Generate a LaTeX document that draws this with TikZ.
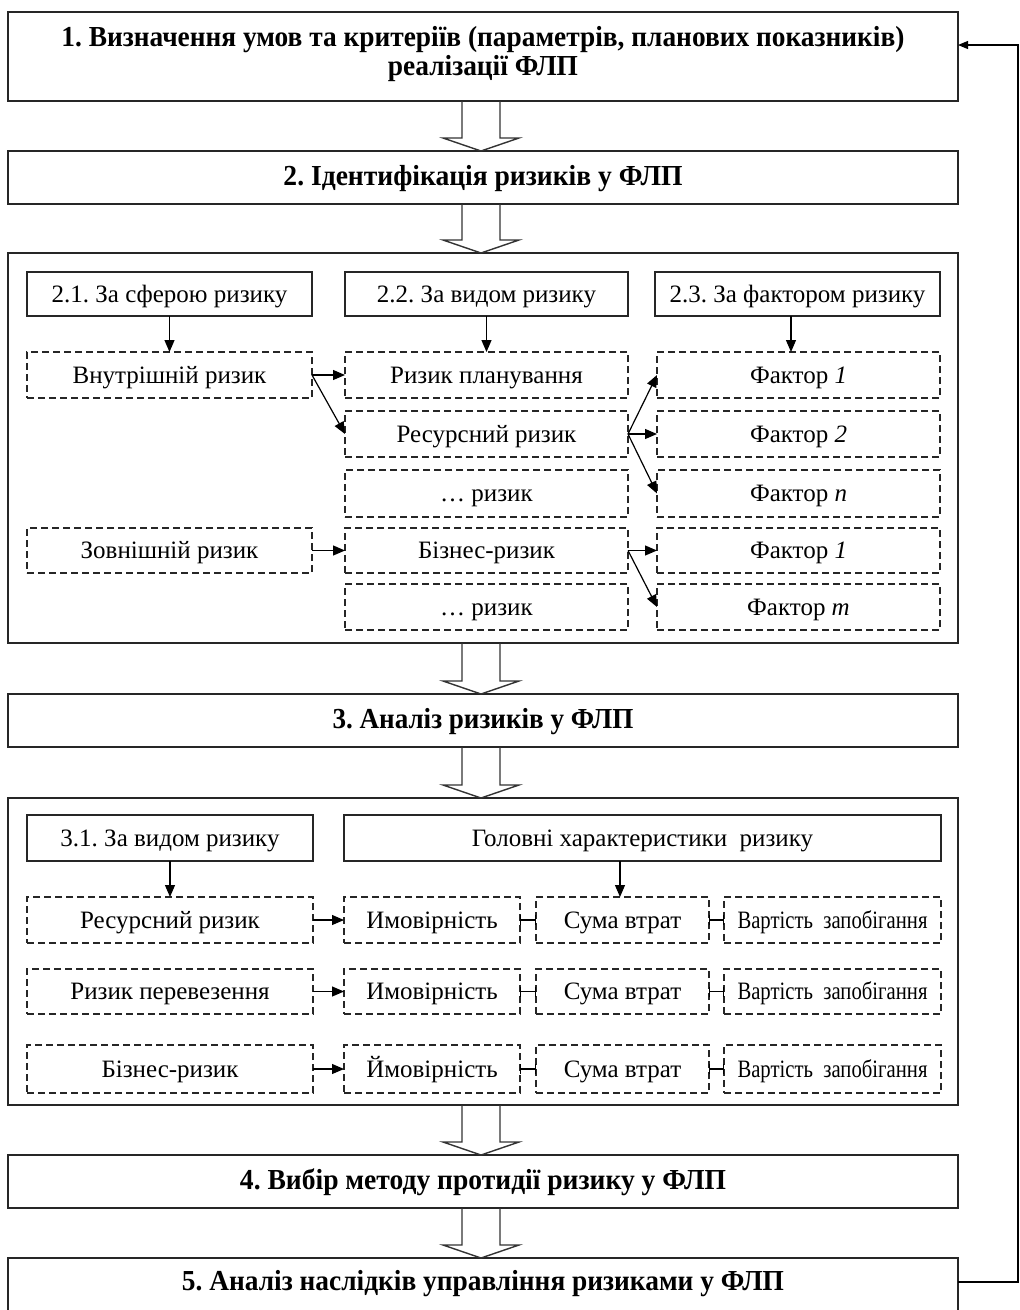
\documentclass[tikz,border=0pt]{standalone}
\usepackage{fontspec}
\setmainfont{Liberation Serif}
\usetikzlibrary{arrows.meta}
\frenchspacing
% squeeze a text horizontally to a given width, keeping its height
\newcommand\fitto[2]{\resizebox{#1}{\height}{#2}}
% hollow block arrow between two stacked boxes
\newcommand\blockarrow[2]{%
  \draw[barrow] ([xshift=-19pt]ax |- #1.south)
    -- ([xshift=-19pt,yshift=13pt]ax |- #2.north)
    -- ([xshift=-38pt,yshift=13pt]ax |- #2.north)
    -- (ax |- #2.north)
    -- ([xshift=38pt,yshift=13pt]ax |- #2.north)
    -- ([xshift=19pt,yshift=13pt]ax |- #2.north)
    -- ([xshift=19pt]ax |- #1.south);}
\begin{document}
\begin{tikzpicture}[x=1pt,y=-1pt,
  every node/.style={inner sep=0pt, outer sep=0pt,
    font=\fontsize{25}{28}\selectfont, text height=19pt, text depth=3pt},
  mainbox/.style={draw=black!85, line width=1.3pt, minimum width=950pt,
    font=\bfseries\fontsize{29}{29}\selectfont, align=center,
    text height=20pt, text depth=5pt},
  panel/.style={draw=black!85, line width=1.3pt, minimum width=950pt},
  headbox/.style={draw=black!85, line width=1.3pt},
  dbox/.style={draw=black!85, line width=1.2pt, dash pattern=on 7pt off 4pt},
  arr/.style={line width=1.2pt, -{Triangle[length=12pt,width=10pt]}},
  barrow/.style={draw=black!80, line width=1.4pt},
  link/.style={line width=1.2pt, {Bar[width=10pt]}-{Bar[width=10pt]}}
]
\useasboundingbox (0,0) rectangle (1020,1310);
\coordinate (ax) at (481,0);

% main stages
\node[mainbox, minimum height=89pt, text height=42pt, text depth=5pt] (s1) at (483,56.5)
  {\fitto{843pt}{1. Визначення умов та критеріїв (параметрів, планових показників)}\\
   \fitto{190pt}{реалізації ФЛП}};
\node[mainbox, minimum height=53pt] (s2) at (483,177.5)
  {\fitto{399pt}{2. Ідентифікація ризиків у ФЛП}};
\node[panel, minimum height=390pt] (p2) at (483,448) {};
\node[mainbox, minimum height=53pt] (s3) at (483,720.5)
  {\fitto{301pt}{3. Аналіз ризиків у ФЛП}};
\node[panel, minimum height=307pt] (p3) at (483,951.5) {};
\node[mainbox, minimum height=53pt] (s4) at (483,1181.5)
  {\fitto{486pt}{4. Вибір методу протидії ризику у ФЛП}};
% the last stage runs past the lower edge of the page
\node[mainbox, minimum height=56pt, text height=20pt, text depth=11pt, anchor=north] (s5) at (483,1258)
  {\fitto{602pt}{5. Аналіз наслідків управління ризиками у ФЛП}};

\blockarrow{s1}{s2}
\blockarrow{s2}{p2}
\blockarrow{p2}{s3}
\blockarrow{s3}{p3}
\blockarrow{p3}{s4}
\blockarrow{s4}{s5}

% feedback loop
\coordinate (fbb) at (1018,1282);
\coordinate (fbt) at (1018,45);
\draw[line width=1.1pt, -{Triangle[length=10pt,width=8pt]}]
  (s5.east |- fbb) -- (fbb) -- (fbt) -- (s1.east |- fbt);

% identification: headings
\node[headbox, minimum width=285pt, minimum height=44pt] (h21) at (169.5,294) {2.1. За сферою ризику};
\node[headbox, minimum width=283pt, minimum height=44pt] (h22) at (486.5,294) {2.2. За видом ризику};
\node[headbox, minimum width=285pt, minimum height=44pt] (h23) at (797.5,294) {2.3. За фактором ризику};

% identification: spheres
\node[dbox, minimum width=285pt, minimum height=46pt] (inr) at (169.5,375) {Внутрішній ризик};
\node[dbox, minimum width=285pt, minimum height=45pt] (outr) at (169.5,550.5) {Зовнішній ризик};
% identification: kinds
\node[dbox, minimum width=283pt, minimum height=46pt] (plan) at (486.5,375) {Ризик планування};
\node[dbox, minimum width=283pt, minimum height=46pt] (res) at (486.5,434) {Ресурсний ризик};
\node[dbox, minimum width=283pt, minimum height=47pt] (dotsa) at (486.5,493.5) {\dots\ ризик};
\node[dbox, minimum width=283pt, minimum height=45pt] (biz) at (486.5,550.5) {Бізнес-ризик};
\node[dbox, minimum width=283pt, minimum height=46pt] (dotsb) at (486.5,607) {\dots\ ризик};
% identification: factors
\node[dbox, minimum width=283pt, minimum height=46pt] (fa1) at (798.5,375) {Фактор \textit{1}};
\node[dbox, minimum width=283pt, minimum height=46pt] (fa2) at (798.5,434) {Фактор \textit{2}};
\node[dbox, minimum width=283pt, minimum height=47pt] (fan) at (798.5,493.5) {Фактор \textit{n}};
\node[dbox, minimum width=283pt, minimum height=45pt] (fb1) at (798.5,550.5) {Фактор \textit{1}};
\node[dbox, minimum width=283pt, minimum height=46pt] (fbm) at (798.5,607) {Фактор \textit{m}};

\draw[arr] (h21.south) -- (inr.north);
\draw[arr] (h22.south) -- (plan.north);
\draw[arr] ([xshift=-6.5pt]h23.south) -- ([xshift=-6.5pt]h23.south |- fa1.north);
\draw[arr] (inr.east) -- (plan.west);
\draw[arr] (inr.east) -- (res.west);
\draw[arr] (outr.east) -- (biz.west);
\draw[arr] (res.east) -- (fa1.west);
\draw[arr] (res.east) -- (fa2.west);
\draw[arr] (res.east) -- (fan.west);
\draw[arr] (biz.east) -- (fb1.west);
\draw[arr] (biz.east) -- (fbm.west);

% analysis: headings
\node[headbox, minimum width=286pt, minimum height=46pt] (h31) at (170,838) {3.1. За видом ризику};
\node[headbox, minimum width=597pt, minimum height=46pt] (hch) at (642.5,838) {Головні характеристики\ \ ризику};

% analysis: rows
\node[dbox, minimum width=286pt, minimum height=46pt] (ka) at (170,920) {Ресурсний ризик};
\node[dbox, minimum width=176pt, minimum height=46pt] (pa) at (432,920) {Имовірність};
\node[dbox, minimum width=173pt, minimum height=46pt] (la) at (622.5,920) {Сума втрат};
\node[dbox, minimum width=217pt, minimum height=46pt] (ca) at (832.5,920) {\fitto{190pt}{Вартість\ \ запобігання}};

\node[dbox, minimum width=286pt, minimum height=45pt] (kb) at (170,991.5) {Ризик перевезення};
\node[dbox, minimum width=176pt, minimum height=45pt] (pb) at (432,991.5) {Имовірність};
\node[dbox, minimum width=173pt, minimum height=45pt] (lb) at (622.5,991.5) {Сума втрат};
\node[dbox, minimum width=217pt, minimum height=45pt] (cb) at (832.5,991.5) {\fitto{190pt}{Вартість\ \ запобігання}};

\node[dbox, minimum width=286pt, minimum height=48pt] (kc) at (170,1069) {Бізнес-ризик};
\node[dbox, minimum width=176pt, minimum height=48pt] (pc) at (432,1069) {Ймовірність};
\node[dbox, minimum width=173pt, minimum height=48pt] (lc) at (622.5,1069) {Сума втрат};
\node[dbox, minimum width=217pt, minimum height=48pt] (cc) at (832.5,1069) {\fitto{190pt}{Вартість\ \ запобігання}};

\draw[arr] (h31.south) -- (ka.north);
\draw[arr] ([xshift=-22.5pt]hch.south) -- ([xshift=-22.5pt]hch.south |- la.north);
\foreach \k/\p/\l/\c in {ka/pa/la/ca, kb/pb/lb/cb, kc/pc/lc/cc}{
  \draw[arr] (\k.east) -- (\p.west);
  \draw[link] (\p.east) -- (\l.west);
  \draw[link] (\l.east) -- (\c.west);
}
\end{tikzpicture}
\end{document}
